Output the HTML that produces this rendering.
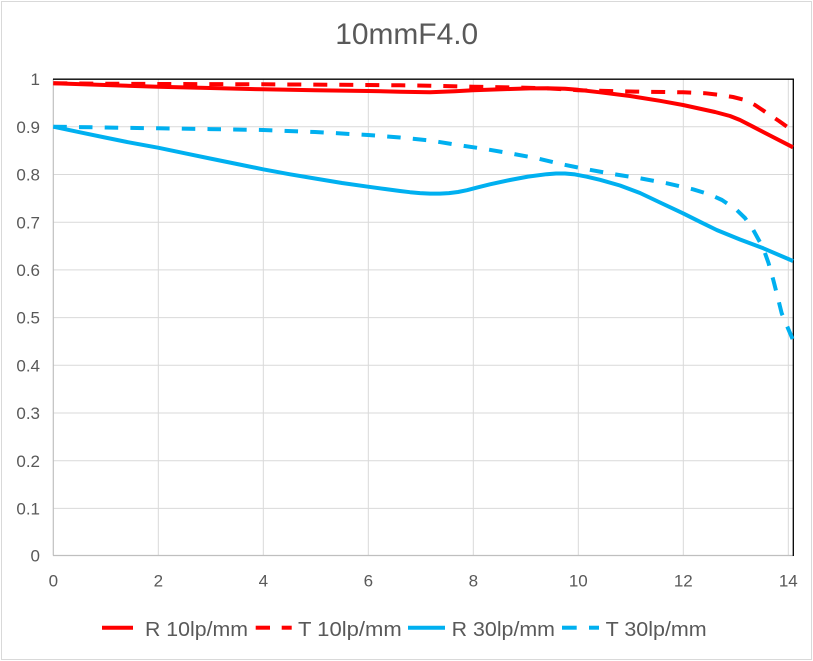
<!DOCTYPE html>
<html><head><meta charset="utf-8"><style>
html,body{margin:0;padding:0;background:#fff;}
svg{display:block;}
text{font-family:"Liberation Sans",Arial,sans-serif;fill:#595959;}
</style></head><body>
<svg width="813" height="661" viewBox="0 0 813 661" xmlns="http://www.w3.org/2000/svg">
<rect x="0" y="0" width="813" height="661" fill="#fff"/>
<rect x="1.5" y="1.5" width="810" height="658" fill="none" stroke="#D9D9D9" stroke-width="1"/>
<text x="406.7" y="44" font-size="30" text-anchor="middle" textLength="143" lengthAdjust="spacingAndGlyphs">10mmF4.0</text>
<g stroke="#D9D9D9" stroke-width="1">
<line x1="53" y1="126.8" x2="793" y2="126.8"/>
<line x1="53" y1="174.5" x2="793" y2="174.5"/>
<line x1="53" y1="222.2" x2="793" y2="222.2"/>
<line x1="53" y1="269.9" x2="793" y2="269.9"/>
<line x1="53" y1="317.6" x2="793" y2="317.6"/>
<line x1="53" y1="365.3" x2="793" y2="365.3"/>
<line x1="53" y1="413" x2="793" y2="413"/>
<line x1="53" y1="460.7" x2="793" y2="460.7"/>
<line x1="53" y1="508.4" x2="793" y2="508.4"/>
<line x1="158.3" y1="79" x2="158.3" y2="555.5"/>
<line x1="263.3" y1="79" x2="263.3" y2="555.5"/>
<line x1="368.3" y1="79" x2="368.3" y2="555.5"/>
<line x1="473.3" y1="79" x2="473.3" y2="555.5"/>
<line x1="578.3" y1="79" x2="578.3" y2="555.5"/>
<line x1="683.3" y1="79" x2="683.3" y2="555.5"/>
<line x1="788.3" y1="79" x2="788.3" y2="555.5"/>
</g>
<line x1="53.3" y1="79" x2="53.3" y2="555.5" stroke="#BFBFBF" stroke-width="1.2"/>
<line x1="53" y1="555.5" x2="793.5" y2="555.5" stroke="#BFBFBF" stroke-width="1.2"/>
<line x1="53" y1="79.2" x2="793.8" y2="79.2" stroke="#000" stroke-width="1.3"/>
<line x1="793.3" y1="78.6" x2="793.3" y2="556" stroke="#000" stroke-width="1.3"/>
<g font-size="17" text-anchor="end">
<text x="40" y="85.2">1</text>
<text x="40" y="132.9">0.9</text>
<text x="40" y="180.6">0.8</text>
<text x="40" y="228.3">0.7</text>
<text x="40" y="276">0.6</text>
<text x="40" y="323.7">0.5</text>
<text x="40" y="371.4">0.4</text>
<text x="40" y="419.1">0.3</text>
<text x="40" y="466.8">0.2</text>
<text x="40" y="514.5">0.1</text>
<text x="40" y="561.6">0</text>
</g>
<g font-size="17" text-anchor="middle">
<text x="53.3" y="586.7">0</text>
<text x="158.3" y="586.7">2</text>
<text x="263.3" y="586.7">4</text>
<text x="368.3" y="586.7">6</text>
<text x="473.3" y="586.7">8</text>
<text x="578.3" y="586.7">10</text>
<text x="683.3" y="586.7">12</text>
<text x="788.3" y="586.7">14</text>
</g>
<g fill="none" stroke-width="4" stroke-linejoin="round">
<polyline stroke="#00B0F0" stroke-dasharray="13.5 12.2" points="53.3,126.7 105,127.5 158,128.3 210,129.1 263,130 315,132 368,135 400,137.5 430,140.5 458,145 485,149 510,153.3 537,158.3 562,164.3 587,169.3 613,174 640,178.3 667,183.3 693,189.3 710,194.5 722,200 736.7,210 745,218 753.3,230 763.3,248.3 768.5,263 773.3,280 777.5,296.5 781.7,313.3 787,326 793,340"/>
<polyline stroke="#00B0F0" points="53.3,126.7 80,132.3 105,137.5 130,142.6 158,147.7 185,153.3 210,158.5 237,164 263,169.3 290,174.3 315,178.5 342,183 368,186.7 385,189 400,191 410,192.2 420,193.1 430,193.6 440,193.6 449,193.1 458,192 467,190.2 477,187.6 490,184.3 510,180 528,176.6 546.7,174.2 556,173.5 565,173.5 575,174.4 586.7,176.7 600,179.8 620,185.5 640,193 660,202.5 683,213.3 700,221.8 716.7,230 740,239.5 763.3,248.3 793,261"/>
<polyline stroke="#FF0000" stroke-dasharray="14 12" points="53.3,83.3 105,83.7 158,84 210,84.1 263,84.3 315,84.6 368,85 400,85.3 430,85.7 473,86.7 510,87.4 546.7,88.3 565,89.3 578,90.3 630,91.5 683,92.3 705,93.2 720,95 733,97 745,100 755,105 765,111.7 779,121 793,131"/>
<polyline stroke="#FF0000" points="53.3,83.3 105,85 158,86.7 210,88 263,89.3 315,90.3 368,91 400,91.7 430,92.2 455,91.2 473,90.2 510,89 530,88.4 546.7,88.3 565,88.7 578,89.8 600,92.3 630,96 660,100.8 683,105 715,112 730,116 740,120 753,126.7 770,135.5 793,147.3"/>
</g>
<g stroke-width="4" fill="none">
<line x1="102" y1="627.7" x2="133" y2="627.7" stroke="#FF0000"/>
<line x1="255.7" y1="627.7" x2="270" y2="627.7" stroke="#FF0000"/>
<line x1="281.7" y1="627.7" x2="291.7" y2="627.7" stroke="#FF0000"/>
<line x1="408" y1="627.7" x2="445" y2="627.7" stroke="#00B0F0"/>
<line x1="562" y1="627.7" x2="576.7" y2="627.7" stroke="#00B0F0"/>
<line x1="589" y1="627.7" x2="599" y2="627.7" stroke="#00B0F0"/>
</g>
<g font-size="20">
<text x="145" y="636" textLength="103" lengthAdjust="spacingAndGlyphs">R 10lp/mm</text>
<text x="298" y="636" textLength="103.7" lengthAdjust="spacingAndGlyphs">T 10lp/mm</text>
<text x="451.7" y="636" textLength="103.3" lengthAdjust="spacingAndGlyphs">R 30lp/mm</text>
<text x="605.7" y="636" textLength="101" lengthAdjust="spacingAndGlyphs">T 30lp/mm</text>
</g>
</svg>
</body></html>
